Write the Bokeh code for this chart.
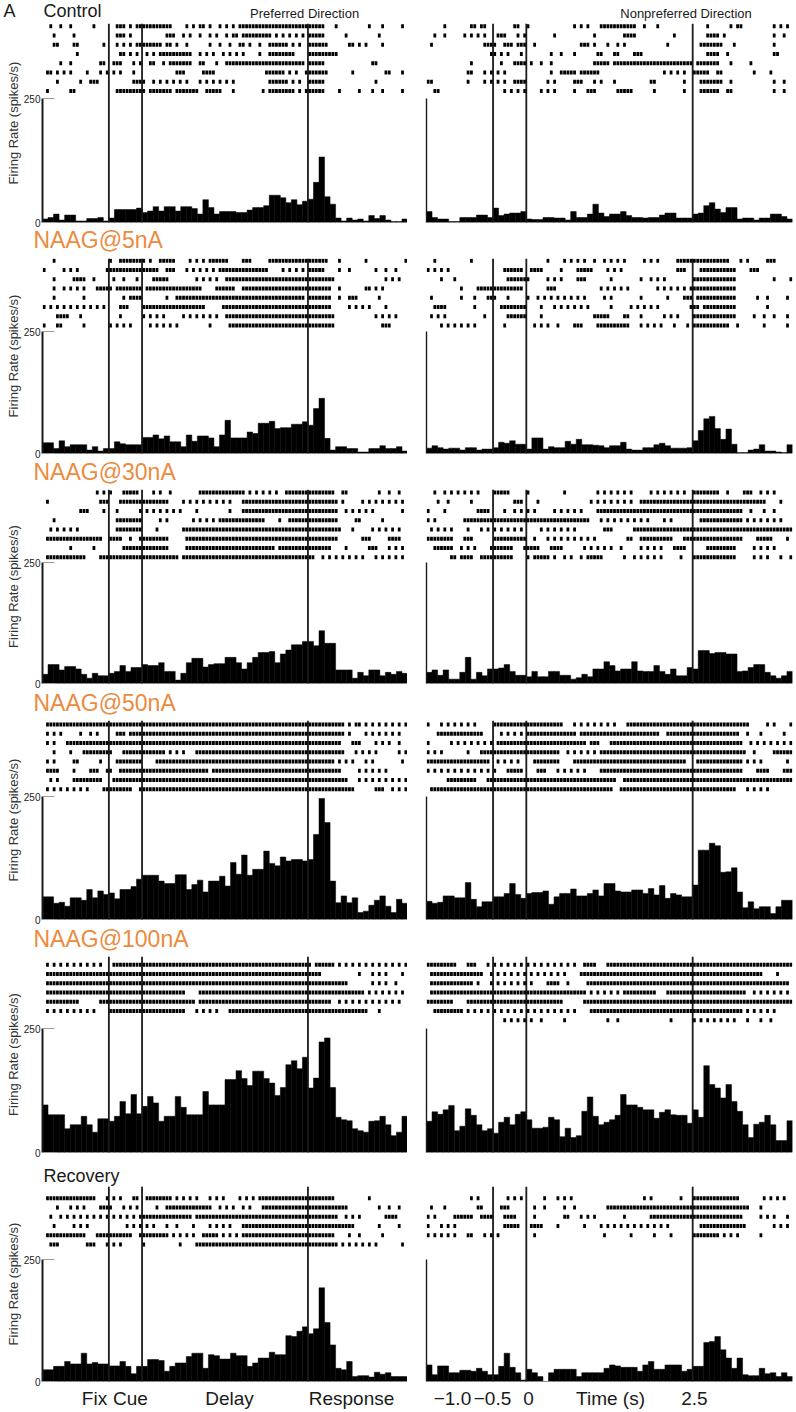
from bokeh.plotting import figure
from bokeh.layouts import column, row
from bokeh.models import Range1d, Span, LinearAxis, FixedTicker
from bokeh.core.properties import value
from bokeh.embed import file_html
from bokeh.resources import INLINE

# ----------------------------------------------------------------- data
CONDITIONS = ["Control", "NAAG@5nA", "NAAG@30nA", "NAAG@50nA", "NAAG@100nA", "Recovery"]
DIRECTIONS = ["Preferred Direction", "Nonpreferred Direction"]
PANEL_LETTER = "A"
EVENT_TIMES = [-0.5, 0.0, 2.5]          # fixation / cue / response (s)
T_START, T_END = -1.5, 4.0              # time window (s)
BIN_WIDTH = 1.0 / 12                    # PSTH bin (s)
RASTER_STEP = 0.05                      # resolution of the raster transcription (s)
Y_TICKS = [0, 250]                      # spikes/s
Y_AXIS_LABEL = "Firing Rate (spikes/s)"
LEFT_BOTTOM_LABELS = ["Fix", "Cue", "Delay", "Response"]
LEFT_BOTTOM_TIMES = [-0.716, -0.174, 1.318, 3.156]
RIGHT_BOTTOM_LABELS = ["\u22121.0", "\u22120.5", "0", "Time (s)", "2.5"]
RIGHT_BOTTOM_TIMES = [-1.11, -0.508, 0.033, 1.265, 2.527]
DIRECTION_TITLE_TIMES = [2.45, 2.40]

# PSTH rates (spikes/s), 66 bins of 1/12 s from -1.5 s
CONTROL_PREF_RATE = [7, 10, 17, 5, 15, 15, 3, 3, 8, 8, 10, 3, 9, 26, 26, 26, 26, 29, 20, 23,
                     32, 23, 32, 32, 23, 32, 32, 28, 17, 46, 30, 17, 22, 22, 22, 20, 20, 25, 30, 30,
                     34, 55, 55, 50, 40, 46, 36, 43, 47, 81, 132, 52, 37, 9, 3, 9, 5, 7, 3, 14,
                     8, 14, 5, 2, 2, 7]
CONTROL_NONPREF_RATE = [22, 10, 7, 7, 2, 2, 10, 10, 10, 15, 15, 10, 29, 14, 17, 19, 19, 22, 7, 6,
                        6, 10, 10, 9, 9, 5, 22, 10, 10, 17, 37, 19, 12, 17, 17, 22, 14, 10, 10, 9,
                        10, 10, 15, 19, 19, 9, 9, 9, 17, 19, 34, 40, 27, 20, 30, 30, 7, 9, 9, 5,
                        9, 9, 17, 17, 12, 7]
NAAG5_PREF_RATE = [22, 22, 10, 26, 14, 18, 18, 18, 7, 14, 5, 10, 10, 24, 20, 18, 18, 18, 33, 33,
                   38, 30, 36, 24, 24, 14, 38, 25, 36, 36, 32, 14, 38, 68, 32, 32, 32, 44, 41, 62,
                   62, 66, 51, 53, 53, 60, 60, 65, 58, 92, 113, 31, 7, 14, 14, 10, 10, 3, 3, 10,
                   10, 16, 10, 10, 14, 5]
NAAG5_NONPREF_RATE = [11, 16, 12, 9, 11, 11, 7, 12, 12, 7, 9, 9, 12, 23, 21, 26, 19, 19, 9, 32,
                      32, 9, 14, 12, 12, 25, 19, 29, 18, 18, 17, 16, 12, 16, 16, 23, 9, 7, 7, 12,
                      12, 18, 21, 16, 11, 11, 11, 12, 26, 47, 71, 76, 51, 29, 50, 19, 2, 2, 7, 9,
                      18, 5, 5, 3, 2, 18]
NAAG30_PREF_RATE = [19, 39, 39, 28, 35, 35, 30, 19, 11, 21, 16, 16, 21, 25, 37, 25, 33, 33, 39, 37,
                    37, 43, 25, 25, 7, 21, 43, 52, 52, 34, 39, 41, 41, 54, 54, 43, 30, 43, 54, 64,
                    64, 66, 43, 61, 69, 80, 80, 87, 87, 78, 109, 83, 83, 28, 28, 28, 11, 23, 16, 28,
                    28, 16, 23, 19, 25, 21]
NAAG30_NONPREF_RATE = [23, 28, 17, 28, 9, 9, 23, 54, 9, 23, 16, 30, 30, 32, 39, 25, 17, 17, 14, 25,
                       14, 14, 25, 25, 17, 17, 9, 12, 19, 14, 30, 30, 45, 37, 26, 30, 30, 45, 26, 25,
                       25, 37, 25, 19, 30, 16, 16, 33, 30, 68, 68, 62, 64, 64, 61, 61, 25, 26, 33, 39,
                       39, 23, 16, 11, 16, 25]
NAAG50_PREF_RATE = [46, 46, 33, 35, 27, 44, 44, 39, 61, 44, 58, 51, 54, 42, 61, 61, 67, 82, 90, 90,
                    90, 78, 73, 73, 91, 91, 61, 71, 80, 56, 78, 78, 88, 68, 116, 92, 131, 90, 102, 102,
                    139, 114, 109, 127, 119, 122, 122, 119, 122, 173, 246, 197, 78, 34, 48, 34, 44, 14, 17, 29,
                    39, 48, 27, 14, 41, 33]
NAAG50_NONPREF_RATE = [37, 33, 35, 48, 48, 44, 44, 75, 41, 26, 36, 36, 46, 46, 53, 73, 51, 43, 53, 55,
                       55, 58, 31, 46, 53, 53, 62, 48, 48, 53, 60, 48, 73, 73, 58, 56, 56, 60, 60, 53,
                       63, 50, 69, 43, 53, 50, 46, 46, 70, 141, 141, 155, 150, 96, 97, 105, 56, 24, 36, 22,
                       26, 26, 12, 26, 39, 39]
NAAG100_PREF_RATE = [96, 76, 76, 76, 48, 56, 56, 73, 56, 41, 68, 68, 63, 73, 103, 78, 117, 78, 93, 113,
                     100, 63, 73, 73, 113, 91, 76, 76, 76, 123, 96, 96, 96, 147, 147, 165, 149, 135, 164, 164,
                     149, 140, 115, 131, 177, 185, 169, 192, 130, 150, 223, 231, 131, 71, 66, 64, 48, 44, 41, 63,
                     64, 73, 56, 34, 41, 73]
NAAG100_NONPREF_RATE = [63, 82, 77, 86, 95, 44, 53, 88, 75, 56, 44, 48, 39, 61, 71, 56, 77, 82, 66, 49,
                        49, 51, 71, 66, 32, 49, 30, 34, 83, 112, 73, 56, 61, 66, 75, 117, 96, 96, 91, 86,
                        86, 69, 81, 86, 76, 75, 75, 59, 86, 71, 175, 137, 130, 110, 137, 103, 83, 56, 30, 57,
                        61, 75, 56, 24, 24, 64]
RECOVERY_PREF_RATE = [24, 24, 31, 31, 41, 36, 36, 58, 36, 39, 36, 36, 32, 32, 41, 31, 16, 31, 31, 45,
                      45, 43, 21, 31, 38, 38, 51, 58, 58, 27, 55, 53, 46, 46, 58, 53, 53, 31, 38, 48,
                      48, 60, 55, 55, 94, 92, 103, 112, 98, 108, 192, 121, 75, 27, 24, 41, 10, 12, 12, 9,
                      19, 15, 18, 10, 10, 10]
RECOVERY_NONPREF_RATE = [34, 14, 32, 32, 18, 18, 23, 23, 21, 27, 21, 14, 14, 31, 58, 29, 18, 3, 25, 18,
                         10, 0, 18, 25, 25, 25, 25, 10, 18, 18, 18, 18, 27, 34, 32, 29, 29, 29, 21, 34,
                         41, 25, 25, 34, 34, 34, 21, 25, 31, 31, 80, 82, 92, 65, 48, 27, 48, 14, 12, 12,
                         27, 16, 18, 10, 18, 10]

# Rasters: one string per trial; spike slots of 0.05 s counted from -1.5 s
# ("a-b" = every slot in the run, "a-b:n" = every n-th slot)
CONTROL_PREF_RASTER = [
    "2 5 8 15 22 23 24 26 28-38 43 45 47 48 50 53-57:2 59-84 88 98 102 108",
    "3 9 22 23 24 26 37-39 42 44 47 50 52 55 57 58 60-68 70-74:2 76 78 80-84 91 101",
    "3 4 9 10 18 22 24-26:2 28-35 37 38 40 43 50 53 56 59 60 62 65 68-73 75 77 80-85 92 93 95 97 102",
    "10 23 24 26 28 31 33 35-44 47-52:2 54-60:2 65 68-75 80-88",
    "5 8 17 18 21-23 27 29 32 33 36 38-44 47 48 52 55-78 80-84 99 100",
    "1 2 4 6 8 13 17 19-24:2 27 40-42 48-51 67-72 74-77:2 79-85 93 103 104 108",
    "4 11 14-16 27-30 33-44:2 47 49-58:2 68-73 75 77 80-84 100",
    "1 8 9 22-30 32-38 40-46 49-53 57 66 68-75 77 79-84 89 95 99 102 108",
]
CONTROL_NONPREF_RASTER = [
    "5 13 14 16 17 26 27 30 44-48:2 52-62 65 69 84 91 93 94 104 106 108",
    "2 5 11-17:2 21-23 27-29:2 38 50 59-62 74 84-87 89 104-107:3",
    "1 17-20 23-25 27-29 32 46 47 48-51:2 54 57-59:2 72 82-88 92 104",
    "19 20 22 24 28 37 40 44 51 52 56 57 62-64 84-87 90 104 105",
    "13 22 26-29 31 34 37 50-54 56-79 81-87 91 97",
    "12 13 17-24:2 37 40-44 46-51 71-77:2 80-84 87 88 98 103",
    "0 1 12 17-23:2 26-29 36-38:2 44-46 50-52:2 56 67 68 77 82-88 91 104 107",
    "2 3 23-29:2 34-38:2 44 48-50 57-61 68 77 82-87 90 91 104 107",
]
NAAG5_PREF_RASTER = [
    "3 20 23-29 30-33:2 35-39 44-49:2 50-55 60-62 68-85 89 97 109",
    "0 6-11:2 19-34 37-39 43-52:2 53-67 72-78:2 80-84 89 92 100-106:3",
    "3 9-12 15 21 24 28 33-37 46-52:2 55-87 103-107:2",
    "3 6-13:2 16-20 22-29 31-47 52-57 60-86 89 97 98 100 102",
    "3 12 24 26-29 37 40-78 80-86 89 92-94 101",
    "0-19:2 23-25 30-48 54-86 92-98:2 103",
    "4-7 11 23 30-37:2 42-52:2 55-87 100-106:2",
    "0 4 5 12 20 22-27:2 32-40:2 50 56-87 102-104",
]
NAAG5_NONPREF_RASTER = [
    "2 13 36 41-48:2 50 53-60:2 65-69:2 75-77 78-90 94-97:2 102-104",
    "0 2-6:2 23-28 31-34 40 45-49 54-58:2 75-77 82-92 97-99",
    "4 8 24-30 36-40:2 45-47 55 64 67-72:2 80-92 104 109",
    "10 15-28 36-38 52-61:2 69-77:2 79-92",
    "1 10 14 18-20 24 30 33-48:2 53 55 64 72 77-79 81-92 99-102:3 108",
    "2-5 14 22-29 34 38-48:2 55 61-69:2 79-81 83-92 102",
    "1-6:2 17 24-29 34 50-54 59 60 64 71-76:2 80-92 98-104:3 108",
    "4-15:2 23 32-36:2 39 44-46 51-60 64-71:2 74 78 80-90 93 101 108",
]
NAAG30_PREF_RASTER = [
    "16-20:2 24-28 33-35:2 38 47-60 62-70:2 73-87 90 91 101-107:3",
    "1 17-19 23-29 30-37 42-57:2 60-80 81-88 90 96-109:2",
    "11-13 18 22 29-41:2 46 56 60-88 91-100:2 108",
    "3 22-29 35-37:2 45-51:2 53-66 71 74-88 94 95 102",
    "2-10:2 22-29 34 42-89 93 99-107:2",
    "1-17 20-23 26 29-37 43-88 96-98 104-107",
    "8 15 24-37 43-69 71-86 91 98-100 104-109:2",
    "1-12 17-40 42-81 84-97:2 100-108:2",
]
NAAG30_NONPREF_RASTER = [
    "2 5-15:2 20-24 30 41 51-62:2 67-77:2 80-87 90 95-97 100-105:2",
    "3-6:3 13 26-28 33 49-62:2 64-101 106-110:4",
    "0 5 15-18 23 26-32:2 38-47:2 51-94 97 101-104:3",
    "0-3:2 11-48 52-66:2 71-73:2 82-94 96-107:2",
    "1-8:2 12 16-28:2 34-45:2 53-55 62-109",
    "0-7 11-13 20-29 32 36-51:2 60 61 64-73 77-94 99-103 108",
    "2-7 10-14:2 19-25 29-33 37-40 47-55:2 58 64-70:2 74-77 84-92 98-105:2",
    "7 8 10-13 16-25 30 32-36 38 41 43 46 48-52 59 62-70:2 76 80-92 98-102:2 106-109:3",
]
NAAG50_PREF_RASTER = [
    "1-89 90-94:2 95-109:2",
    "1-5:2 11 14-17:2 22-24 26-89 90-93:2 97-108:2",
    "1-4:2 7-89 93-95 100-105:2 107",
    "3 8 12-20 24-36 38-43:2 46-90 94-100:2 107-109:2",
    "1-4:2 9 10 17 22-29 34-87 89-93:2 97-99:2 108",
    "1-4 9 14-16 19 20 23-49 51-89 95-103:2",
    "2-4:2 9-17 21-91 95-109:2",
    "1-14:2 18-26 29-93 100-102 105-109:2",
]
NAAG50_NONPREF_RASTER = [
    "0 4-14:2 20-40 44-56:2 60-96 102 104 109",
    "3-16 22-28:2 30-44 46-69 72-93 96 100 107",
    "0 7-19:2 21-47 49-51 55-94 97-109:2",
    "0-5:2 12 16-39 42-50:2 52-94 95-100:3 104-109",
    "0-18 21-28:2 32-39 44-77 81-94 96-100:2 108",
    "0-20:2 24-28 33-35 39-48:2 52-94 99-102 107-109",
    "6-14 18-56 59-109",
    "1-55 58-92 96-102:2",
]
NAAG100_PREF_RASTER = [
    "1-18:2 21-80 82-87 89-109:2",
    "1-83 95 99-104:2 108",
    "1-91 99-103:2 106",
    "1-42 47-96 98-109:2",
    "1-10 17-45 47-86 89-108:2",
    "1-16:2 20-42 46-53:2 56-97 101",
]
NAAG100_NONPREF_RASTER = [
    "0-8 12-14 18-45:2 47-50 54-109",
    "1-16 19-41:2 46-100 105",
    "1-13 15 19-31:2 36-39 42 48-108",
    "1-46 47-57:2 59-68 72-95 98-109:2",
    "0-7 12-40 47-109",
    "2-10 12-45:2 49-94 96-104:2",
    "23-29:2 31 34 41 54 57 73 80-92:2 96 100 103",
]
RECOVERY_PREF_RASTER = [
    "1-15 19-24:2 27 28 31-37 38-47:2 50-55:2 59-63:2 65-87 98",
    "4 8-13:2 17-20 24-28:2 34 37-50 53-57:2 60-62:2 66-91 101-107:3",
    "2 5-30:2 30-44 46-88 91-95:2 103-106",
    "3 9-14:2 25-34:2 37 40 45 50-57:2 60-93 101 107",
    "1-12 16-26 29-37 39-46:2 48-52 54-58:2 60-87 92 95 102",
    "2-4 13-15 19-23:2 30 41 46-88 90-101:2 108",
]
RECOVERY_NONPREF_RASTER = [
    "13 15 24-28:2 35 39-43:2 65 67 76 80-93 101-107:2",
    "1 5 15 16 22-24 32-35:3 41-44:3 54-81 82-96 100",
    "0-3:2 8-13 16-19 23-26 32 41 42 46-51:2 59 67-94 100-104:2 108",
    "0 4-8:2 23-27 31-34 39 47 52-73:2 82-95 104-109:2",
    "0-6:2 8 12 13 17-22:2 32 53 61 68 73 80-87 89-93:2 100",
]

PREF_RATES = [CONTROL_PREF_RATE, NAAG5_PREF_RATE, NAAG30_PREF_RATE,
              NAAG50_PREF_RATE, NAAG100_PREF_RATE, RECOVERY_PREF_RATE]
NONPREF_RATES = [CONTROL_NONPREF_RATE, NAAG5_NONPREF_RATE, NAAG30_NONPREF_RATE,
                 NAAG50_NONPREF_RATE, NAAG100_NONPREF_RATE, RECOVERY_NONPREF_RATE]
PREF_RASTERS = [CONTROL_PREF_RASTER, NAAG5_PREF_RASTER, NAAG30_PREF_RASTER,
                NAAG50_PREF_RASTER, NAAG100_PREF_RASTER, RECOVERY_PREF_RASTER]
NONPREF_RASTERS = [CONTROL_NONPREF_RASTER, NAAG5_NONPREF_RASTER, NAAG30_NONPREF_RASTER,
                   NAAG50_NONPREF_RASTER, NAAG100_NONPREF_RASTER, RECOVERY_NONPREF_RASTER]

# ----------------------------------------------------------------- layout / style
FONT = "Liberation Sans"
ORANGE = "#EC8A3E"
INK = "#1a1a1a"
LEFT_BORDER = 42
FRAME_W = [365, 366]
BORDER_L = [LEFT_BORDER, 19]
BORDER_R = [0, 2]
TOTAL_W = sum(FRAME_W) + sum(BORDER_L) + sum(BORDER_R)
RASTER_H = [75, 73, 73, 76, 72, 73]
HIST_H = [124, 122, 121, 123, 124, 122]
PANEL_BOTTOM = 6
HEADER_H = [23, 30, 30, 31, 31, 28]
FOOTER_H = 23
TRIAL_PX = 9.25
RASTER_PAD_PX = [2.7, 2.3, 3.0, 4.0, 8.3, 11.7]
TICK_W = 0.042
TICK_H = 0.42
LABEL_COLORS = [INK, ORANGE, ORANGE, ORANGE, ORANGE, INK]
LABEL_SIZES = [18, 23, 23, 23, 23, 18]
LABEL_X = [43, 33, 33, 33, 33, 43]
LABEL_BASELINE = [17, 20, 20.3, 22, 21.7, 24]    # px from the header top
LETTER_X = 3
TITLE_BASELINE = 17.3
FOOTER_BASELINE = 18
BASELINE_SHIFT_EM = 0.35   # measured offset of the rendered alphabetic baseline


def parse_train(s):
    idx = set()
    for tok in s.split():
        step = 1
        if ":" in tok:
            tok, st = tok.split(":")
            step = int(st)
        if "-" in tok:
            a, b = tok.split("-")
            idx.update(range(int(a), int(b) + 1, step))
        else:
            idx.add(int(tok))
    n = int(round((T_END - T_START) / RASTER_STEP))
    return [T_START + RASTER_STEP * (j + 0.5) for j in sorted(idx) if 0 <= j < n]


def bare_fig(**kw):
    p = figure(output_backend="svg", toolbar_location=None,
               x_axis_location=None, y_axis_location=None,
               background_fill_color="white", border_fill_color="white",
               outline_line_color=None, **kw)
    p.grid.visible = False
    return p


def make_panel(r, c):
    rh, hh = RASTER_H[r], HIST_H[r]
    fh = rh + hh
    pad = RASTER_PAD_PX[r]
    p = bare_fig(frame_width=FRAME_W[c], frame_height=fh,
                 x_range=Range1d(T_START, T_END),
                 y_range=Range1d(0, Y_TICKS[-1] * fh / hh),
                 min_border_top=0, min_border_bottom=PANEL_BOTTOM,
                 min_border_left=BORDER_L[c], min_border_right=BORDER_R[c])
    p.extra_y_ranges = {"trial": Range1d(-(fh - pad) / TRIAL_PX, pad / TRIAL_PX)}

    # PSTH
    rates = (PREF_RATES if c == 0 else NONPREF_RATES)[r]
    left = [T_START + i * BIN_WIDTH for i in range(len(rates))]
    right = [l + BIN_WIDTH for l in left]
    p.quad(left=left, right=right, top=rates, bottom=0,
           fill_color="black", line_color="black", line_width=0.5)

    # raster
    trains = (PREF_RASTERS if c == 0 else NONPREF_RASTERS)[r]
    xs, ys = [], []
    for k, s in enumerate(trains):
        for t in parse_train(s):
            xs.append(t)
            ys.append(-k)
    p.rect(x=xs, y=ys, width=TICK_W, height=TICK_H, fill_color="black",
           line_color=None, y_range_name="trial")

    for t in EVENT_TIMES:
        p.add_layout(Span(location=t, dimension="height", line_color=INK, line_width=1.8))

    if c == 0:
        ax = LinearAxis(ticker=FixedTicker(ticks=Y_TICKS), bounds=(Y_TICKS[0], Y_TICKS[-1]),
                        major_tick_in=12, major_tick_out=0,
                        major_tick_line_color="#9a9a9a", major_tick_line_width=1,
                        minor_tick_line_color=None,
                        axis_line_width=2, axis_line_color=INK,
                        major_label_text_font=FONT, major_label_text_font_size="10px",
                        major_label_text_color="#222222", major_label_standoff=2,
                        axis_label=Y_AXIS_LABEL, axis_label_text_font=FONT,
                        axis_label_text_font_size="13px", axis_label_text_font_style="normal",
                        axis_label_text_color="#333333", axis_label_standoff=0)
    else:
        ax = LinearAxis(ticker=FixedTicker(ticks=[]), bounds=(Y_TICKS[0], Y_TICKS[-1]),
                        axis_line_width=1.4, axis_line_color=INK,
                        major_tick_line_color=None, minor_tick_line_color=None)
    p.add_layout(ax, "left")
    return p


def add_text(p, x, baseline, txt, size, color, align):
    y = baseline - BASELINE_SHIFT_EM * size
    p.text(x=[x], y=[y], text=[txt], text_font=value(FONT), text_font_size=value(f"{size}px"),
           text_color=color, text_align=value(align), text_baseline=value("alphabetic"))


def panel_x(c, t):
    # horizontal position (px) of time t in column c, for header texts
    x0 = BORDER_L[0] if c == 0 else BORDER_L[0] + FRAME_W[0] + BORDER_R[0] + BORDER_L[1]
    return x0 + (t - T_START) * FRAME_W[c] / (T_END - T_START)


def make_header(r):
    h = HEADER_H[r]
    p = bare_fig(frame_width=TOTAL_W, frame_height=h,
                 x_range=Range1d(0, TOTAL_W), y_range=Range1d(h, 0),
                 min_border_top=0, min_border_bottom=0, min_border_left=0, min_border_right=0)
    if r == 0:
        add_text(p, LETTER_X, LABEL_BASELINE[0], PANEL_LETTER, 18, INK, "left")
        for c in range(2):
            add_text(p, panel_x(c, DIRECTION_TITLE_TIMES[c]), TITLE_BASELINE, DIRECTIONS[c],
                     13, INK, "center")
    add_text(p, LABEL_X[r], LABEL_BASELINE[r], CONDITIONS[r], LABEL_SIZES[r], LABEL_COLORS[r], "left")
    return p


def make_footer(c):
    p = bare_fig(frame_width=FRAME_W[c], frame_height=FOOTER_H,
                 x_range=Range1d(T_START, T_END), y_range=Range1d(FOOTER_H, 0),
                 min_border_top=0, min_border_bottom=0,
                 min_border_left=BORDER_L[c], min_border_right=BORDER_R[c])
    labels, times = ((LEFT_BOTTOM_LABELS, LEFT_BOTTOM_TIMES) if c == 0
                     else (RIGHT_BOTTOM_LABELS, RIGHT_BOTTOM_TIMES))
    for txt, t in zip(labels, times):
        add_text(p, t, FOOTER_BASELINE, txt, 19, INK, "center")
    return p


items = []
for r in range(6):
    items.append(make_header(r))
    items.append(row(make_panel(r, 0), make_panel(r, 1)))
items.append(row(make_footer(0), make_footer(1)))
layout = column(*items)

open("out.html", "w").write(file_html(layout, INLINE))
